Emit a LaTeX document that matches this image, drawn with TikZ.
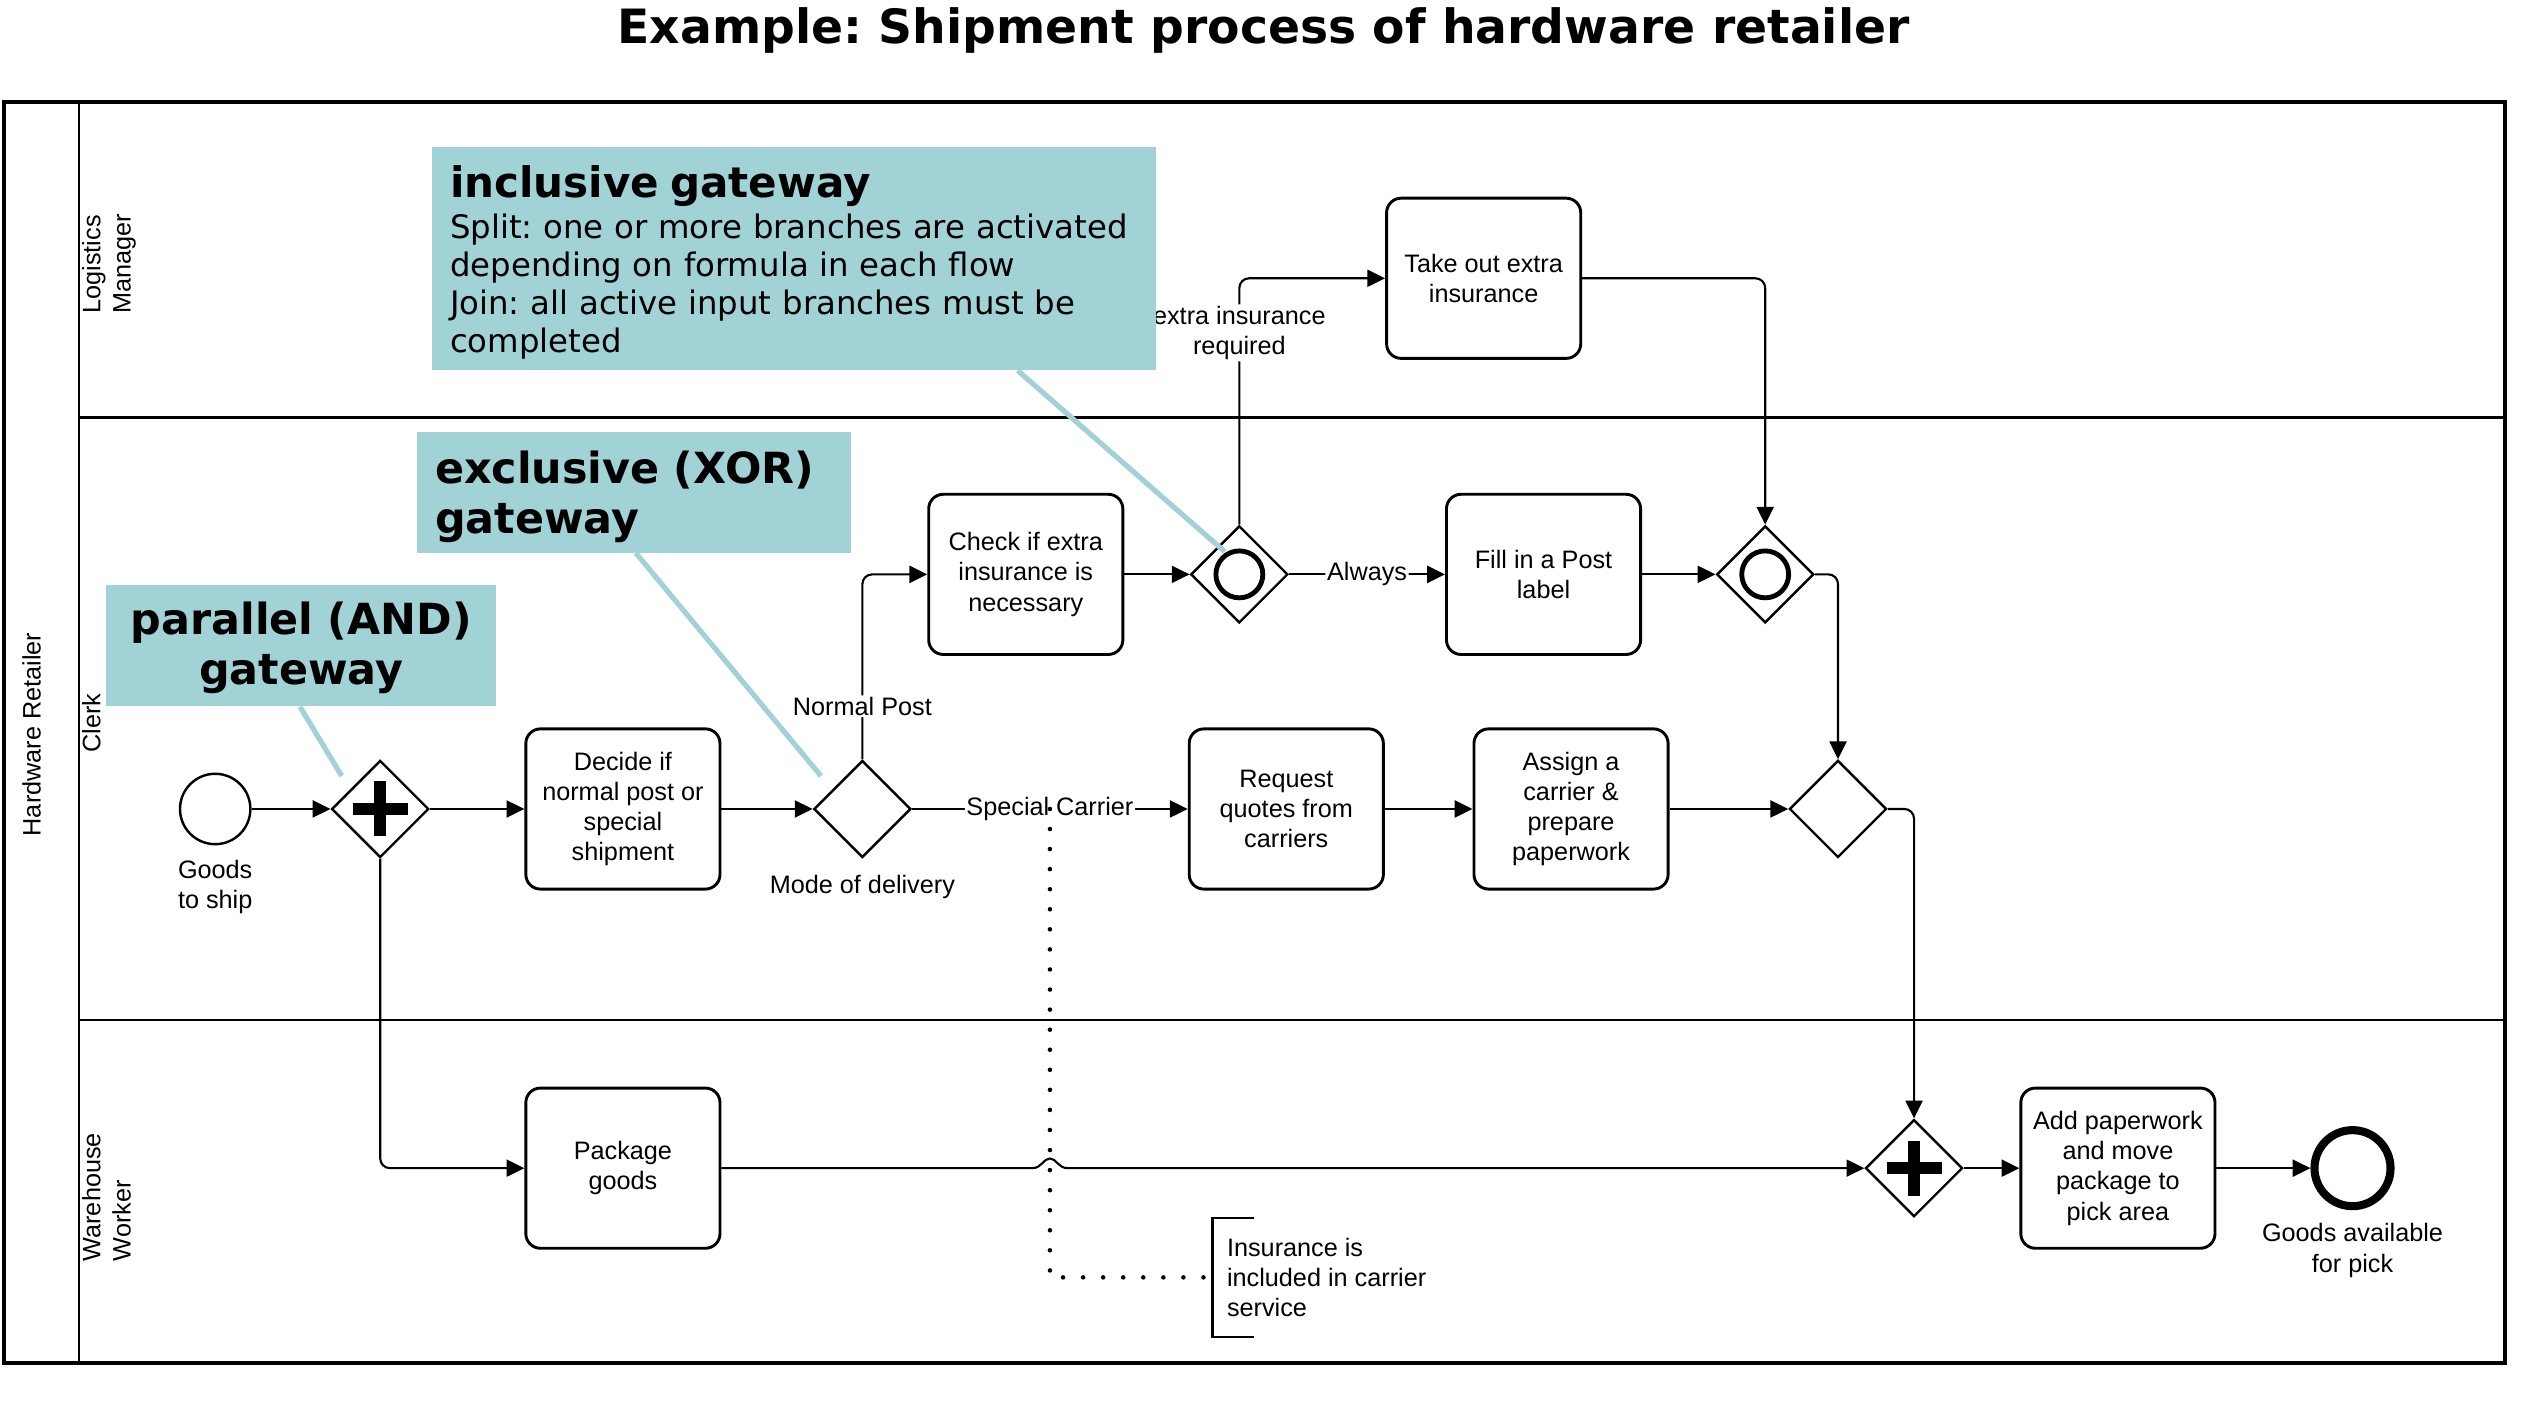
\documentclass[tikz,border=0pt]{standalone}
\usepackage{fontspec}
\setmainfont{Liberation Sans}
\newfontfamily\notefont{DejaVu Sans}
\usepackage{tikz}
\usetikzlibrary{positioning, arrows.meta, shapes.geometric}
\usepackage{xcolor}
\definecolor{notecolor}{HTML}{A1D2D6}
\frenchspacing

\begin{document}
\begin{tikzpicture}[x=1pt, y=-1pt,
    task/.style={rectangle, draw, rounded corners=9pt, line width=1.8pt, minimum width=120pt, minimum height=99pt, align=center, font=\fontsize{15.6}{18.7}\selectfont, inner sep=2pt},
    gateway/.style={diamond, draw, line width=1.5pt, minimum width=60pt, minimum height=60pt, inner sep=0pt, aspect=1},
    andgate/.style={gateway, path picture={\draw[line width=7.5pt] ([xshift=-17pt]path picture bounding box.center) -- ([xshift=17pt]path picture bounding box.center) ([yshift=-17pt]path picture bounding box.center) -- ([yshift=17pt]path picture bounding box.center);}},
    orgate/.style={gateway, path picture={\draw[line width=3pt] (path picture bounding box.center) circle[radius=14.5pt];}},
    event/.style={circle, draw, line width=1.5pt, minimum size=43.5pt, inner sep=0pt},
    endevent/.style={event, line width=5pt, minimum size=47pt},
    lbl/.style={font=\fontsize{15.6}{18.7}\selectfont, align=center, inner sep=1pt},
    flowlbl/.style={lbl, fill=white},
    lanename/.style={lbl, rotate=90, anchor=north, align=left},
    flow/.style={draw, line width=1.3pt, rounded corners=6pt, -{Triangle[length=11pt, width=10.5pt]}},
    assoc/.style={draw, line width=2.8pt, line cap=round, dash pattern=on 0pt off 12.4pt},
    callout/.style={fill=notecolor, inner xsep=11pt, inner ysep=0pt, anchor=north west, font=\notefont\fontsize{20}{23.5}\selectfont},
    bigbold/.style={font=\notefont\bfseries\fontsize{26.5}{31}\selectfont},
    pointer/.style={draw=notecolor, line width=3.2pt}
    ]
    \useasboundingbox (0,0) rectangle (1560,874);
    \node [font=\notefont\bfseries\fontsize{29.2}{35}\selectfont] (title) at (781,19) {Example: Shipment process of hardware retailer};

    % pool and lanes
    \draw [line width=2.5pt] (2.5,63) rectangle (1548.5,842.5);
    \draw [line width=1.5pt] (48.7,63) -- (48.7,842.5);
    \draw [line width=1.5pt] (48.7,258) -- (1548.5,258);
    \draw [line width=1.5pt] (48.7,630.5) -- (1548.5,630.5);
    \node [lbl, rotate=90] (pool) at (19.5,454) {Hardware Retailer};
    \node [lanename] (lm) at (49.5,163) {Logistics\\Manager};
    \node [lanename] (clerk) at (49.5,447) {Clerk};
    \node [lanename] (ww) at (49.5,740) {Warehouse\\Worker};

    % events, gateways, tasks
    \node [event] (start) at (133,500) {};
    \node [lbl, below=8pt of start] (startlbl) {Goods\\to ship};
    \node [andgate] (and1) at (235,500) {};
    \node [task] (decide) at (385,500) {Decide if\\normal post or\\special\\shipment};
    \node [gateway] (xor) at (533,500) {};
    \node [lbl, below=9pt of xor] (modelbl) {Mode of delivery};
    \node [task] (check) at (634,355) {Check if extra\\insurance is\\necessary};
    \node [orgate] (or1) at (766,355) {};
    \node [task] (takeout) at (917,172) {Take out extra\\insurance};
    \node [task] (fill) at (954,355) {Fill in a Post\\label};
    \node [orgate] (or2) at (1091,355) {};
    \node [task] (request) at (795,500) {Request\\quotes from\\carriers};
    \node [task] (assign) at (971,500) {Assign a\\carrier \&\\prepare\\paperwork};
    \node [gateway] (xorj) at (1136,500) {};
    \node [task] (package) at (385,722) {Package\\goods};
    \node [andgate] (andj) at (1183,722) {};
    \node [task] (add) at (1309,722) {Add paperwork\\and move\\package to\\pick area};
    \node [endevent] (end) at (1454,722) {};
    \node [lbl, below=7pt of end] (endlbl) {Goods available\\for pick};
    \node [lbl, align=left, anchor=west, minimum height=73pt, inner xsep=8.7pt] (insnote) at (749.5,789.5) {Insurance is\\included in carrier\\service};
    \draw [line width=1.5pt] ([xshift=25.6pt]insnote.north west) -- (insnote.north west) -- (insnote.south west) -- ([xshift=25.6pt]insnote.south west);

    % sequence flows
    \draw [flow] (start) -- (and1);
    \draw [flow] (and1) -- (decide);
    \draw [flow] (decide) -- (xor);
    \draw [flow] (xor.north) |- node [flowlbl, pos=0.143] (np) {Normal Post} (check.west);
    \draw [flow] (check) -- (or1);
    \draw [flow] (or1.north) |- node [flowlbl, pos=0.389] (eir) {extra insurance\\required} (takeout.west);
    \draw [flow] (or1) -- node [flowlbl] (alw) {Always} (fill);
    \draw [flow] (takeout.east) -| (or2.north);
    \draw [flow] (fill) -- (or2);
    \draw [flow] (or2.east) -| (xorj.north);
    \draw [flow] (xor) -- node [flowlbl] (sc) {Special Carrier} (request);
    \draw [flow] (request) -- (assign);
    \draw [flow] (assign) -- (xorj);
    \draw [flow] (xorj.east) -| (andj.north);
    \draw [flow] (and1.south) |- (package.west);
    \coordinate (jump) at (sc |- package.east);
    \draw [flow, sharp corners] (package) -- ([xshift=-11pt]jump) .. controls ([xshift=-5pt]jump) and ([xshift=-4pt, yshift=6pt]jump) .. ([yshift=6pt]jump) .. controls ([xshift=4pt, yshift=6pt]jump) and ([xshift=5pt]jump) .. ([xshift=11pt]jump) -- (andj);
    \draw [flow] (andj) -- (add);
    \draw [flow] (add) -- (end);
    \draw [assoc] (sc.center) |- (insnote.west);

    % callouts
    \node [callout, minimum width=447pt, minimum height=138pt, text width=425pt, align=left] (incnote) at (267,90.6) {{\bfseries\fontsize{26}{26}\selectfont\rule{0pt}{24.8pt}inclusive gateway}\\[2pt]Split: one or more branches are activated\\depending on formula in each flow\\Join: all active input branches must be\\completed};
    \node [callout, bigbold, minimum width=268pt, minimum height=74.7pt, text width=246pt, align=left] (xornote) at (257.7,266.7) {\rule{0pt}{26pt}exclusive (XOR)\\gateway};
    \node [callout, bigbold, minimum width=241pt, minimum height=75.3pt, text width=219pt, align=center] (andnote) at (65.5,361.1) {\rule{0pt}{23pt}parallel (AND)\\gateway};
    \draw [pointer] ([xshift=362pt]incnote.south west) -- ([xshift=-9pt, yshift=14pt]or1.center);
    \draw [pointer] ([xshift=135.3pt]xornote.south west) -- ([xshift=-25.6pt, yshift=20.4pt]xor.center);
    \draw [pointer] ([xshift=119.9pt]andnote.south west) -- ([xshift=-23.8pt, yshift=20.4pt]and1.center);
\end{tikzpicture}
\end{document}
